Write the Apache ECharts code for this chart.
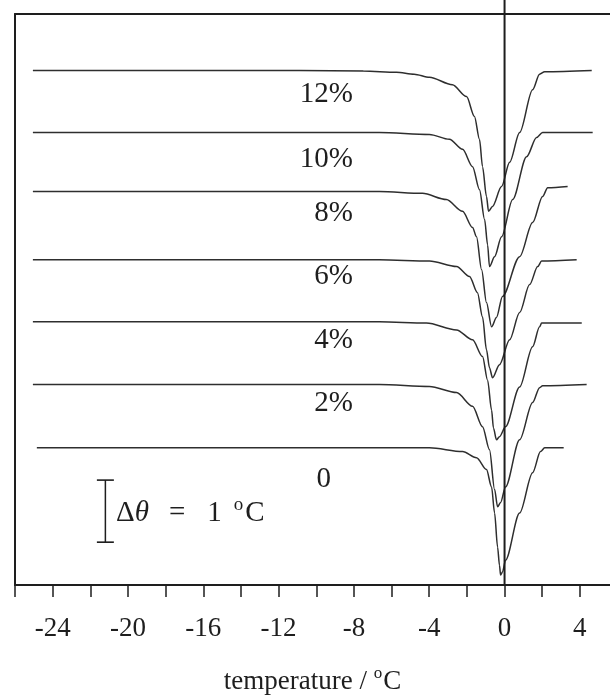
<!DOCTYPE html>
<html>
<head>
<meta charset="utf-8">
<script src="https://cdn.jsdelivr.net/npm/echarts@6/dist/echarts.min.js"></script>
<style>
html,body{margin:0;padding:0;background:#fff;}
#chart{width:610px;height:697px;}
</style>
</head>
<body>
<div id="chart"></div>
<script>
// Curve names (water content) and the vertical offset of each trace (in °C of Δθ)
const curveNames = ['12%', '10%', '8%', '6%', '4%', '2%', '0'];
const baselines = [8.29, 7.29, 6.34, 5.24, 4.24, 3.23, 2.21];

// Each trace: [temperature °C, Δθ relative to its baseline °C]
const trace12 = [[-25.05,0],[-16.2,0],[-10.9,0],[-7.5,-0.01],[-5.74,-0.03],[-4.8,-0.06],[-3.99,-0.11],[-2.77,-0.23],[-2.02,-0.42],[-1.60,-0.74],[-1.33,-1.11],[-1.17,-1.55],[-0.96,-2.03],[-0.85,-2.27],[-0.64,-2.19],[-0.16,-1.87],[0.27,-1.48],[0.80,-1.00],[1.49,-0.31],[1.86,-0.06],[2.13,-0.02],[4.63,0]];
const trace10 = [[-25.05,0],[-16.2,0],[-6.65,0],[-3.99,-0.03],[-2.93,-0.11],[-2.23,-0.27],[-1.70,-0.55],[-1.33,-0.92],[-1.06,-1.40],[-0.90,-1.81],[-0.80,-2.16],[-0.53,-2.00],[-0.16,-1.68],[0.43,-1.08],[1.17,-0.39],[1.70,-0.08],[2.02,0],[4.68,0]];
const trace8 = [[-25.05,0],[-16.2,0],[-6.65,0],[-4.36,-0.03],[-3.09,-0.13],[-2.23,-0.32],[-1.70,-0.58],[-1.49,-0.73],[-1.22,-1.26],[-0.96,-1.79],[-0.69,-2.18],[-0.43,-2.03],[-0.11,-1.69],[0.80,-1.05],[1.49,-0.50],[2.02,-0.08],[2.29,0.06],[3.35,0.08]];
const trace6 = [[-25.05,0],[-16.2,0],[-6.65,0],[-3.99,-0.02],[-2.55,-0.11],[-1.86,-0.27],[-1.44,-0.53],[-1.17,-0.92],[-0.96,-1.45],[-0.80,-1.74],[-0.64,-1.90],[-0.27,-1.69],[0.27,-1.29],[0.80,-0.85],[1.33,-0.40],[1.76,-0.11],[1.97,-0.02],[3.83,0]];
const trace4 = [[-25.05,0],[-16.2,0],[-6.65,0],[-4.15,-0.02],[-2.55,-0.13],[-1.70,-0.29],[-1.17,-0.56],[-0.90,-0.94],[-0.69,-1.42],[-0.59,-1.71],[-0.43,-1.90],[-0.27,-1.85],[0.05,-1.69],[0.80,-1.05],[1.49,-0.40],[1.86,-0.08],[1.97,-0.02],[4.10,-0.02]];
const trace2 = [[-25.05,0],[-16.2,0],[-6.65,0],[-3.99,-0.03],[-2.55,-0.13],[-1.70,-0.35],[-1.17,-0.68],[-0.80,-1.05],[-0.53,-1.69],[-0.37,-1.97],[-0.21,-1.90],[0.05,-1.65],[0.80,-0.89],[1.49,-0.29],[1.86,-0.05],[2.02,-0.02],[4.36,0]];
const trace0 = [[-24.84,0],[-16.2,0],[-6.65,0],[-3.99,0],[-2.23,-0.06],[-1.49,-0.16],[-0.96,-0.35],[-0.69,-0.63],[-0.53,-1.05],[-0.37,-1.60],[-0.27,-1.89],[-0.21,-2.05],[-0.11,-2.00],[0.05,-1.81],[0.80,-1.05],[1.49,-0.40],[1.91,-0.06],[2.13,0],[3.14,0]];
const traces = [trace12, trace10, trace8, trace6, trace4, trace2, trace0];

// Scale bar: Δθ = 1 °C
const scaleBarT = -21.2;
const scaleBarRange = [0.69, 1.69];

// Axis settings
const xTickValues = [-26, -24, -22, -20, -18, -16, -14, -12, -10, -8, -6, -4, -2, 0, 2, 4];
const xTickLabels = [-24, -20, -16, -12, -8, -4, 0, 4];
const xMin = -26, xMax = 5.6;
const yMin = 0, yMax = 9.2;
const zeroLineTop = 9.43;

const FONT = '"Liberation Serif", "DejaVu Serif", serif';
const INK = '#1e1e1e';

const series = traces.map((tr, i) => ({
  name: curveNames[i],
  type: 'line',
  data: tr.map(p => [p[0], baselines[i] + p[1]]),
  showSymbol: false,
  smooth: 0.3,
  smoothMonotone: 'x',
  lineStyle: { color: '#2e2e2e', width: 1.5 },
  silent: true,
  z: 3
}));

// vertical line at 0 °C (extends above frame)
series.push({
  type: 'line',
  data: [[0, yMin], [0, zeroLineTop]],
  showSymbol: false,
  clip: false,
  lineStyle: { color: INK, width: 2 },
  silent: true,
  z: 4
});

// scale bar
series.push({
  type: 'line',
  data: [[scaleBarT, scaleBarRange[0]], [scaleBarT, scaleBarRange[1]]],
  symbol: 'rect',
  symbolSize: [17, 1.6],
  showSymbol: true,
  itemStyle: { color: INK },
  lineStyle: { color: INK, width: 1.5 },
  silent: true,
  z: 4
});

const labelPos = [
  { text: '12%', x: 353, y: 94 },
  { text: '10%', x: 353, y: 159 },
  { text: '8%', x: 353, y: 213 },
  { text: '6%', x: 353, y: 276 },
  { text: '4%', x: 353, y: 340 },
  { text: '2%', x: 353, y: 403 },
  { text: '0', x: 331, y: 479 }
];

const chart = echarts.init(document.getElementById('chart'), null, { renderer: 'canvas' });
chart.setOption({
  backgroundColor: '#fff',
  animation: false,
  grid: { left: 15, right: 0, top: 14, bottom: 112, show: false, containLabel: false, outerBoundsMode: 'none' },
  xAxis: [{
    type: 'value', min: xMin, max: xMax, position: 'bottom',
    axisLine: { show: true, onZero: false, lineStyle: { color: INK, width: 2 } },
    axisTick: { show: true, inside: false, length: 12, customValues: xTickValues, lineStyle: { color: INK, width: 1.5 } },
    splitLine: { show: false },
    axisLabel: {
      margin: 30, fontFamily: FONT, fontSize: 27, color: INK,
      customValues: xTickLabels,
      formatter: v => String(v)
    },
    name: '{t|temperature / }{s|o}{t|C}',
    nameLocation: 'middle',
    nameGap: 80,
    nameTextStyle: {
      rich: {
        t: { fontFamily: FONT, fontSize: 27, color: INK, lineHeight: 30, verticalAlign: 'bottom' },
        s: { fontFamily: FONT, fontSize: 17, color: INK, lineHeight: 30, verticalAlign: 'top', padding: [0, 1, 0, 0] }
      }
    }
  }, {
    type: 'value', min: xMin, max: xMax, position: 'top',
    axisLine: { show: true, onZero: false, lineStyle: { color: INK, width: 2 } },
    axisTick: { show: false }, axisLabel: { show: false }, splitLine: { show: false }
  }],
  yAxis: {
    type: 'value', min: yMin, max: yMax,
    axisLine: { show: true, onZero: false, lineStyle: { color: INK, width: 2 } },
    axisTick: { show: false }, axisLabel: { show: false }, splitLine: { show: false }
  },
  series: series,
  graphic: labelPos.map(l => ({
    type: 'text', x: l.x, y: l.y, silent: true,
    style: { text: l.text, fontFamily: FONT, fontSize: 29, fill: INK, align: 'right', verticalAlign: 'middle' }
  })).concat([{
    type: 'text', x: 116, y: 512, silent: true,
    style: {
      text: '{a|Δ}{i|θ}{e|=}{n|1}{s|o}{a|C}',
      verticalAlign: 'middle', align: 'left',
      rich: {
        a: { fontFamily: FONT, fontSize: 29, fill: INK, lineHeight: 32, verticalAlign: 'bottom' },
        i: { fontFamily: FONT, fontSize: 29, fontStyle: 'italic', fill: INK, lineHeight: 32, verticalAlign: 'bottom' },
        e: { fontFamily: FONT, fontSize: 29, fill: INK, lineHeight: 32, verticalAlign: 'bottom', padding: [0, 0, 0, 20] },
        n: { fontFamily: FONT, fontSize: 29, fill: INK, lineHeight: 32, verticalAlign: 'bottom', padding: [0, 0, 0, 22] },
        s: { fontFamily: FONT, fontSize: 19, fill: INK, lineHeight: 32, verticalAlign: 'top', padding: [0, 2, 0, 12] }
      }
    }
  }])
});
</script>
</body>
</html>
